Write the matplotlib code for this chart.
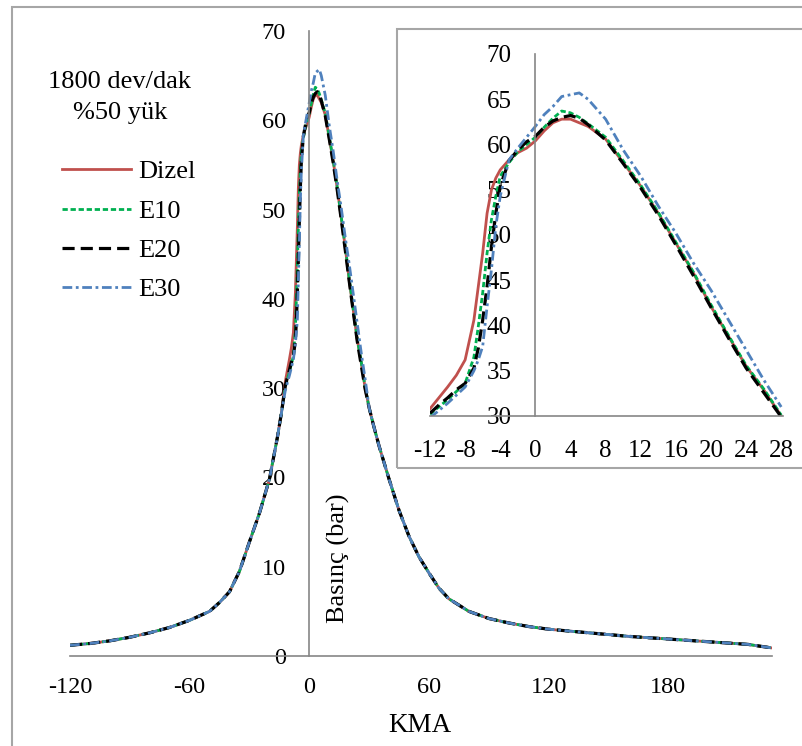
import numpy as np
import matplotlib
matplotlib.use("Agg")
from matplotlib import pyplot as plt
from matplotlib.patches import Rectangle

plt.rcParams['font.family'] = ['Liberation Serif', 'DejaVu Serif']
plt.rcParams['axes.unicode_minus'] = False

# shared tails of the pressure curves (KMA, bar)
kma_left = [-120, -110, -100, -90, -80, -70, -60, -50, -45, -40, -35, -30, -25, -20, -16, -14]
p_left = [1.2, 1.4, 1.7, 2.1, 2.6, 3.2, 4.0, 5.0, 6.0, 7.2, 9.5, 12.8, 16.0, 19.8, 24.5, 27.2]
kma_right = [30, 32, 35, 40, 45, 50, 55, 60, 65, 70, 80, 90, 100, 110, 120, 140, 160, 180, 200, 220, 232]
p_right = [27.8, 26.0, 23.5, 19.8, 16.3, 13.4, 11.1, 9.3, 7.6, 6.4, 5.0, 4.2, 3.7, 3.3, 3.0,
           2.6, 2.2, 1.9, 1.6, 1.3, 0.9]

# combustion region, per fuel
kma_core = [-12, -11, -10, -9, -8, -7, -6.5, -6, -5.5, -5, -4.5, -4, -3, -2, -1, 0, 1, 2, 3, 4,
            5, 6, 8, 10, 12, 14, 16, 18, 20, 22, 24, 26, 28]
p_dizel = [30.8, 32.0, 33.2, 34.5, 36.2, 40.6, 44.3, 48.0, 52.4, 55.0, 56.3, 57.2, 58.3, 59.1, 59.6,
           60.4, 61.5, 62.4, 62.8, 62.8, 62.4, 62.0, 60.6, 58.0, 55.4, 52.4, 49.1, 45.8, 42.1, 38.8,
           35.5, 32.9, 30.0]
p_e10 = [30.2, 31.0, 31.8, 32.7, 33.6, 36.5, 39.9, 43.6, 48.0, 51.7, 54.3, 56.5, 58.0, 59.2, 60.0,
         60.8, 61.9, 62.9, 63.7, 63.5, 63.0, 62.3, 60.8, 58.2, 55.5, 52.5, 49.2, 45.9, 42.3, 38.9,
         35.6, 33.0, 30.1]
p_e20 = [30.3, 31.2, 32.0, 32.9, 33.6, 35.3, 37.5, 40.6, 44.3, 48.7, 52.4, 55.4, 58.2, 59.4, 60.3,
         60.9, 61.9, 62.6, 63.0, 63.2, 62.9, 62.2, 60.5, 57.9, 55.2, 52.2, 48.9, 45.5, 42.0, 38.6,
         35.3, 32.6, 29.9]
p_e30 = [29.8, 30.6, 31.4, 32.3, 33.2, 35.0, 36.2, 37.7, 42.1, 46.2, 51.0, 54.3, 58.3, 59.6, 60.8,
         62.0, 63.3, 64.2, 65.3, 65.5, 65.7, 65.0, 62.8, 59.4, 56.5, 53.2, 50.2, 46.9, 43.9, 40.6,
         37.3, 34.0, 31.0]

labels = ["Dizel", "E10", "E20", "E30"]
colors = ["#C0504D", "#00B050", "#000000", "#4F81BD"]
styles = ["-", (0, (1.9, 1.0)), (0, (3.8, 1.9)), (0, (3.5, 1.3, 1.0, 1.3))]
widths = [2, 2, 2.3, 2]
series = [p_dizel, p_e10, p_e20, p_e30]

x_full = np.concatenate([kma_left, kma_core, kma_right])

W, H = 803, 746
fig = plt.figure(figsize=(W / 100, H / 100), dpi=100)

ax = fig.add_axes([70 / W, (H - 656) / H, 702 / W, 625 / H])
for p, c, ls, lw, lab in zip(series, colors, styles, widths, labels):
    y_full = np.concatenate([p_left, p, p_right])
    ax.plot(x_full, y_full, color=c, linestyle=ls, linewidth=lw, label=lab)

ax.set_xlim(-120, 232)
ax.set_ylim(0, 70)
ax.set_xticks([-120, -60, 0, 60, 120, 180])
ax.set_yticks(range(0, 71, 10))
for s in ['top', 'right']:
    ax.spines[s].set_visible(False)
ax.spines['left'].set_position(('data', 0))
ax.spines['bottom'].set_position(('data', 0))
for s in ['left', 'bottom']:
    ax.spines[s].set_color('#868686')
    ax.spines[s].set_linewidth(1.2)
ax.tick_params(axis='both', length=0, labelsize=17.5)
ax.tick_params(axis='y', pad=17)
ax.tick_params(axis='x', pad=15)

fig.text(420 / W, (H - 725) / H, "KMA", ha='center', va='center', fontsize=19.5)
fig.text(338 / W, (H - 558) / H, "Basınç (bar)", ha='center', va='center', rotation=90, fontsize=19)

fig.text(120 / W, (H - 82) / H, "1800 dev/dak", ha='center', va='center', fontsize=19)
fig.text(120 / W, (H - 113) / H, "%50 yük", ha='center', va='center', fontsize=19)

ax.legend(loc='upper left', bbox_to_anchor=(62 / W, (H - 160) / H), bbox_transform=fig.transFigure,
          frameon=False, fontsize=19, handlelength=2.6, handletextpad=0.3,
          labelspacing=0.6, borderpad=0, borderaxespad=0)

# inset
ins = fig.add_axes([430 / W, (H - 416) / H, 353 / W, 362 / H])
for p, c, ls, lw in zip(series, colors, styles, widths):
    ins.plot(kma_core, p, color=c, linestyle=ls, linewidth=lw)
ins.set_xlim(-12, 28.2)
ins.set_ylim(30, 70)
ins.set_xticks(range(-12, 29, 4))
ins.set_yticks(range(30, 71, 5))
for s in ['top', 'right']:
    ins.spines[s].set_visible(False)
ins.spines['left'].set_position(('data', 0))
ins.spines['bottom'].set_position(('data', 30))
for s in ['left', 'bottom']:
    ins.spines[s].set_color('#868686')
    ins.spines[s].set_linewidth(1.2)
ins.tick_params(axis='both', length=0, labelsize=18)
ins.tick_params(axis='y', pad=17)
ins.tick_params(axis='x', pad=17.5)
ins.patch.set_alpha(0)

# chart frames
fig.patches.append(Rectangle((12 / W, -0.01), 1.0, (H - 7) / H + 0.01, transform=fig.transFigure,
                             fill=False, edgecolor='#A6A6A6', linewidth=1.5))
fig.patches.append(Rectangle((397 / W, (H - 468) / H), 1.0, (468 - 29) / H, transform=fig.transFigure,
                             fill=False, edgecolor='#A6A6A6', linewidth=1.5))

plt.savefig("out.png", dpi=100)
